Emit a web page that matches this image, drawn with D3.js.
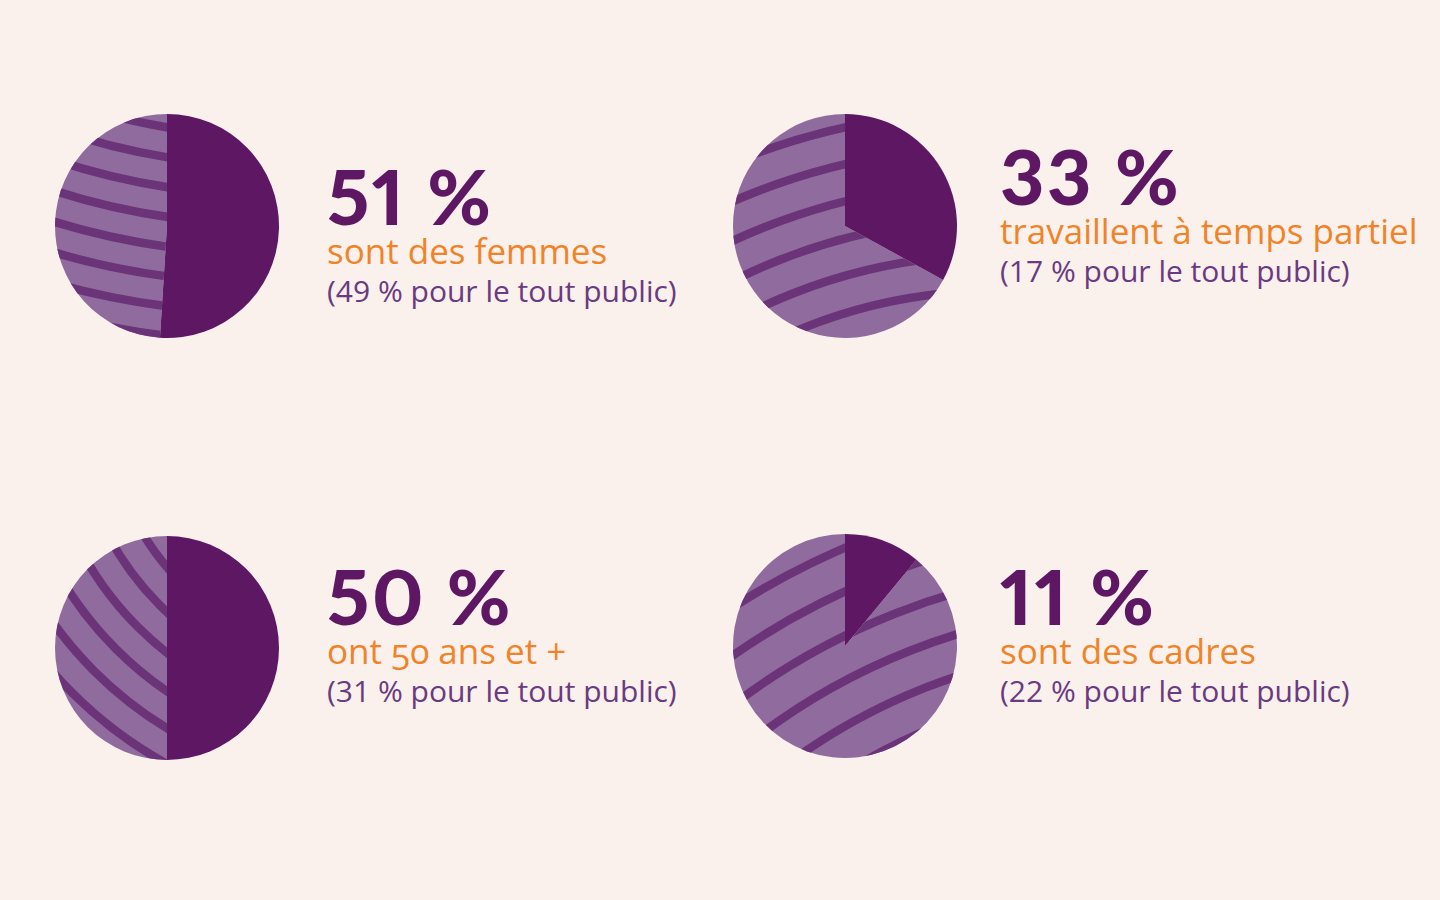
<!DOCTYPE html>
<html>
<head>
<meta charset="utf-8">
<script src="https://cdn.jsdelivr.net/npm/d3@7"></script>
<style>
  html, body { margin: 0; padding: 0; background: #fbf1ec; }
  svg { display: block; }
</style>
</head>
<body>
<svg id="chart" width="1440" height="900"></svg>
<script>
// ---- data ----
const shares = [51, 33, 50, 11];
const labels = ["sont des femmes", "travaillent à temps partiel", "ont 50 ans et +", "sont des cadres"];
const publicShares = [49, 17, 31, 22];

// ---- layout / style ----
const W = 1440, H = 900;
const bg = "#fbf1ec";
const darkPurple = "#5e1762";
const lightPurple = "#906b9e";
const stripeColor = "#6c3478";
const orange = "#f08328";
const subColor = "#6a3a82";

const radius = 112;
const pieCenters = [[167, 226], [845, 226], [167, 648], [845, 646]];
const textX = [327, 1000, 327, 1000];
const numBaseline = [225, 205, 625, 625];
// stripe pattern per pie: centre of concentric arcs (relative to pie centre), first radius, step, count
const stripeSets = [
  { c: [100, -700], r0: 580, step: 29.5, n: 11 },
  { c: [150, 580], r0: 443, step: 36, n: 9 },
  { c: [200, -250], r0: 200, step: 31, n: 9 },
  { c: [300, 600], r0: 560, step: 40, n: 7 }
];

const svg = d3.select("#chart");
svg.append("rect").attr("width", W).attr("height", H).attr("fill", bg);

const pie = d3.pie().sort(null).startAngle(0).endAngle(2 * Math.PI);
const arc = d3.arc().innerRadius(0).outerRadius(radius);
const defs = svg.append("defs");

shares.forEach((v, i) => {
  const slices = pie([v, 100 - v]);
  const g = svg.append("g").attr("transform", `translate(${pieCenters[i][0]},${pieCenters[i][1]})`);

  // light slice
  g.append("path").attr("d", arc(slices[1])).attr("fill", lightPurple);

  // stripes clipped to the light slice
  const clipId = "clip" + i;
  defs.append("clipPath").attr("id", clipId)
    .append("path").attr("d", arc(slices[1]))
    .attr("transform", `translate(${pieCenters[i][0]},${pieCenters[i][1]})`);
  const st = stripeSets[i];
  const radii = d3.range(st.n).map(k => st.r0 + k * st.step);
  svg.append("g").attr("clip-path", `url(#${clipId})`)
    .selectAll("circle").data(radii).join("circle")
    .attr("cx", pieCenters[i][0] + st.c[0])
    .attr("cy", pieCenters[i][1] + st.c[1])
    .attr("r", d => d)
    .attr("fill", "none")
    .attr("stroke", stripeColor)
    .attr("stroke-width", 8.5);

  // dark slice (value)
  g.append("path").attr("d", arc(slices[0])).attr("fill", darkPurple);

  // texts
  const t = svg.append("g");
  t.append("text")
    .attr("x", textX[i]).attr("y", numBaseline[i])
    .attr("font-family", "Lato, 'Open Sans', sans-serif")
    .attr("font-weight", 900)
    .attr("font-size", 77)
    .attr("letter-spacing", 2.5)
    .attr("fill", darkPurple)
    .style("font-variant-numeric", "proportional-nums")
    .text(`${v} %`);
  t.append("text")
    .attr("x", textX[i]).attr("y", numBaseline[i] + 39)
    .attr("font-family", "'Open Sans', sans-serif")
    .attr("font-size", 35)
    .attr("fill", orange)
    .style("font-variant-numeric", "oldstyle-nums")
    .text(labels[i]);
  t.append("text")
    .attr("x", textX[i]).attr("y", numBaseline[i] + 77)
    .attr("font-family", "'Open Sans', sans-serif")
    .attr("font-size", 30)
    .attr("fill", subColor)
    .text(`(${publicShares[i]} % pour le tout public)`);
});
</script>
</body>
</html>
